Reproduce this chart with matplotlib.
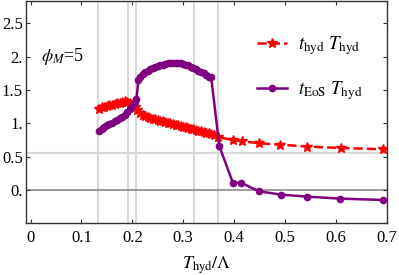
import matplotlib
matplotlib.use("Agg")
import matplotlib.pyplot as plt

# t_hyd (red stars, dashed)
x_hyd = [0.134, 0.140, 0.145, 0.150, 0.155, 0.160, 0.165, 0.170, 0.175, 0.180,
         0.185, 0.190, 0.195, 0.200, 0.205, 0.210, 0.215, 0.220, 0.225, 0.230,
         0.235, 0.240, 0.245, 0.250, 0.255, 0.260, 0.265, 0.270, 0.275, 0.280,
         0.285, 0.290, 0.295, 0.300, 0.305, 0.310, 0.315, 0.320, 0.325, 0.330,
         0.335, 0.340, 0.345, 0.350, 0.355, 0.360,
         0.369, 0.398, 0.415, 0.449, 0.490, 0.544, 0.610, 0.692]
y_hyd = [1.22, 1.24, 1.25, 1.26, 1.27, 1.28, 1.29, 1.30, 1.31, 1.32,
         1.33, 1.32, 1.31, 1.28, 1.24, 1.20, 1.16, 1.13, 1.11, 1.10,
         1.08, 1.07, 1.06, 1.05, 1.04, 1.03, 1.02, 1.01, 1.00, 0.99,
         0.98, 0.97, 0.96, 0.95, 0.94, 0.93, 0.92, 0.91, 0.90, 0.89,
         0.88, 0.87, 0.86, 0.85, 0.84, 0.83,
         0.79, 0.75, 0.73, 0.70, 0.68, 0.65, 0.63, 0.61]

# t_EoS (purple circles, solid)
x_eos = [0.134, 0.140, 0.145, 0.150, 0.155, 0.160, 0.165, 0.170, 0.175, 0.180,
         0.185, 0.190, 0.195, 0.200, 0.205, 0.208,
         0.212, 0.215, 0.220, 0.225, 0.230, 0.235, 0.240, 0.245, 0.250, 0.255,
         0.260, 0.265, 0.270, 0.275, 0.280, 0.285, 0.290, 0.295, 0.300, 0.305,
         0.310, 0.315, 0.320, 0.325, 0.330, 0.335, 0.340, 0.345, 0.350, 0.355,
         0.371, 0.398, 0.413, 0.449, 0.492, 0.543, 0.609, 0.692]
y_eos = [0.89, 0.92, 0.95, 0.97, 0.99, 1.01, 1.03, 1.05, 1.08, 1.10,
         1.13, 1.17, 1.21, 1.26, 1.32, 1.36,
         1.65, 1.70, 1.74, 1.77, 1.79, 1.81, 1.83, 1.85, 1.86, 1.87,
         1.88, 1.89, 1.90, 1.90, 1.91, 1.91, 1.90, 1.90, 1.89, 1.88,
         1.87, 1.85, 1.83, 1.81, 1.79, 1.77, 1.75, 1.72, 1.70, 1.69,
         0.66, 0.10, 0.11, -0.02, -0.07, -0.10, -0.13, -0.15]

vlines = [0.1325, 0.1915, 0.2067, 0.321, 0.3675]
hline = 0.55

xticks = [0, 0.1, 0.2, 0.3, 0.4, 0.5, 0.6, 0.7]
xticklabels = ["0", "0.1", "0.2", "0.3", "0.4", "0.5", "0.6", "0.7"]
yticks = [0, 0.5, 1, 1.5, 2, 2.5]
yticklabels = ["0.", "0.5", "1.", "1.5", "2.", "2.5"]

plt.rcParams["font.family"] = ["Liberation Serif", "DejaVu Serif"]
plt.rcParams["mathtext.fontset"] = "stix"

fig = plt.figure(figsize=(3.99, 2.75), dpi=100)
ax = fig.add_axes([0.064, 0.188, 0.905, 0.81])

for v in vlines:
    ax.axvline(v, color="#d9d9d9", lw=1.5, zorder=0)
ax.axhline(hline, color="#d9d9d9", lw=1.5, zorder=0)
ax.axhline(0, color="#8c8c8c", lw=1.2, zorder=0)

ax.plot(x_hyd, y_hyd, ls="--", color="red", lw=1.8, marker="*", ms=7.5,
        label=r"$t_{\mathrm{hyd}}\ T_{\mathrm{hyd}}$", zorder=2)
ax.plot(x_eos, y_eos, ls="-", color="#800080", lw=1.8, marker="o", ms=4.5,
        label=r"$t_{\mathrm{EoS}}\ T_{\mathrm{hyd}}$", zorder=3)

ax.set_xlim(-0.01, 0.7)
ax.set_ylim(-0.5, 2.84)
ax.set_xticks(xticks)
ax.set_xticklabels(xticklabels)
ax.set_yticks(yticks)
ax.set_yticklabels(yticklabels)
ax.tick_params(direction="in", top=True, right=True, length=3, width=0.8,
               labelsize=12, colors="#333333", labelcolor="black")
ax.tick_params(axis="x", pad=5)
ax.tick_params(axis="y", pad=2)
for s in ax.spines.values():
    s.set_color("#333333")
    s.set_linewidth(1.0)

ax.set_xlabel(r"$T_{\mathrm{hyd}}/\Lambda$", fontsize=13, labelpad=6)
ax.text(0.02, 2.0, r"$\phi_M$=5", fontsize=13, va="center")

ax.legend(loc="upper left", bbox_to_anchor=(0.641, 0.85), frameon=False,
          fontsize=13.5, handlelength=1.6, handletextpad=0.6,
          labelspacing=1.2, borderaxespad=0, borderpad=0)

fig.savefig("out.png", dpi=100)
